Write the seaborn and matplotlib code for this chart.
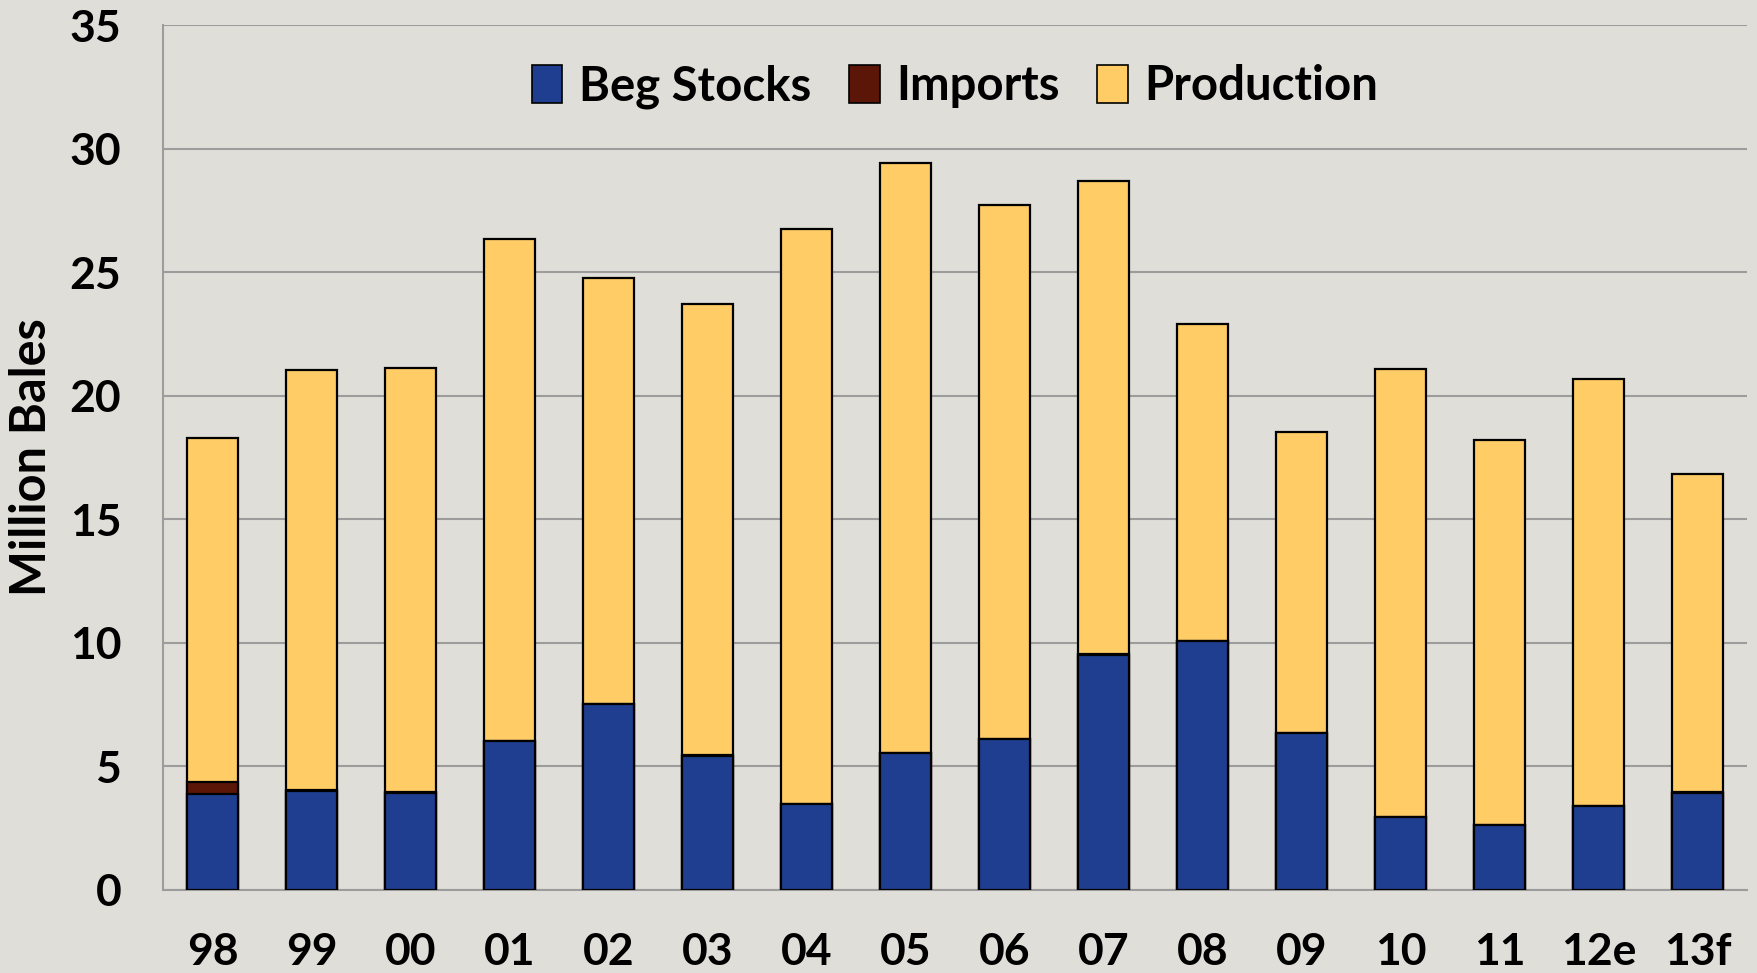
import numpy as np
import pandas as pd
import matplotlib
matplotlib.use("Agg")
import matplotlib.pyplot as plt
from matplotlib.patches import Patch
import seaborn as sns

# Data (million bales)
years = ["98", "99", "00", "01", "02", "03", "04", "05",
         "06", "07", "08", "09", "10", "11", "12e", "13f"]
beg_stocks = [3.90, 3.99, 3.94, 6.03, 7.52, 5.44, 3.49, 5.53,
              6.12, 9.52, 10.06, 6.35, 2.95, 2.63, 3.40, 3.94]
imports = [0.45, 0.07, 0.02, 0.01, 0.01, 0.01, 0.01, 0.01,
           0.01, 0.01, 0.01, 0.01, 0.01, 0.01, 0.01, 0.01]
production = [13.92, 16.97, 17.16, 20.30, 17.22, 18.26, 23.25, 23.88,
              21.57, 19.16, 12.82, 12.18, 18.12, 15.58, 17.26, 12.87]

df = pd.DataFrame({"year": years, "beg": beg_stocks,
                   "imp": imports, "prod": production})
df["beg_imp"] = df["beg"] + df["imp"]
df["total"] = df["beg_imp"] + df["prod"]

bg = "#DFDED8"
c_beg = "#1F3E8F"
c_imp = "#5C1608"
c_prod = "#FFCC66"
grid_c = "#9C9C9C"

sns.set_style("white")
plt.rcParams["font.family"] = ["Lato", "DejaVu Sans"]
plt.rcParams["font.weight"] = "bold"
plt.rcParams["text.color"] = "black"
plt.rcParams["axes.labelcolor"] = "black"
plt.rcParams["xtick.labelcolor"] = "black"
plt.rcParams["ytick.labelcolor"] = "black"

fig = plt.figure(figsize=(17.58, 9.73), dpi=100, facecolor=bg)
ax = fig.add_axes([163 / 1758, 1 - 890 / 973, (1747 - 163) / 1758, (890 - 25) / 973])
ax.set_facecolor(bg)

# stacked bars: draw the cumulative totals from the top down
bar_kw = dict(width=0.52, edgecolor="black", linewidth=1.6, saturation=1, ax=ax, zorder=3)
sns.barplot(data=df, x="year", y="total", color=c_prod, **bar_kw)
sns.barplot(data=df, x="year", y="beg_imp", color=c_imp, **bar_kw)
sns.barplot(data=df, x="year", y="beg", color=c_beg, **bar_kw)

ax.set_xlim(-0.5, len(years) - 0.5)
ax.set_ylim(0, 35)
ax.set_yticks(np.arange(0, 36, 5))
ax.yaxis.grid(True, color=grid_c, linewidth=1.5, zorder=0)
ax.set_axisbelow(True)

for s in ["top", "right"]:
    ax.spines[s].set_visible(False)
for s in ["left", "bottom"]:
    ax.spines[s].set_color(grid_c)
    ax.spines[s].set_linewidth(1.5)

# category separators as minor ticks on the x axis
ax.set_xticks(np.arange(-0.5, len(years), 1.0), minor=True)
ax.tick_params(axis="x", which="minor", length=11, width=1.5, color=grid_c, direction="out")
ax.tick_params(axis="x", which="major", length=0, pad=30, labelsize=32)
ax.tick_params(axis="y", which="major", length=11, width=1.5, color=grid_c,
               direction="out", pad=19, labelsize=32)
for lab in ax.get_xticklabels() + ax.get_yticklabels():
    lab.set_fontweight("bold")

ax.set_xlabel("")
ax.set_ylabel("Million Bales", fontsize=35, fontweight="bold")
ax.yaxis.set_label_coords(-0.069, 0.5)

handles = [Patch(facecolor=c_beg, edgecolor="black", linewidth=1.2, label="Beg Stocks"),
           Patch(facecolor=c_imp, edgecolor="black", linewidth=1.2, label="Imports"),
           Patch(facecolor=c_prod, edgecolor="black", linewidth=1.2, label="Production")]
leg = ax.legend(handles=handles, loc="center", bbox_to_anchor=(0.5, 0.929), ncol=3,
                frameon=False, handlelength=0.65, handleheight=0.85,
                handletextpad=0.35, columnspacing=0.8, prop={"weight": "bold", "size": 34})

fig.savefig("out.png", dpi=100, facecolor=bg)
